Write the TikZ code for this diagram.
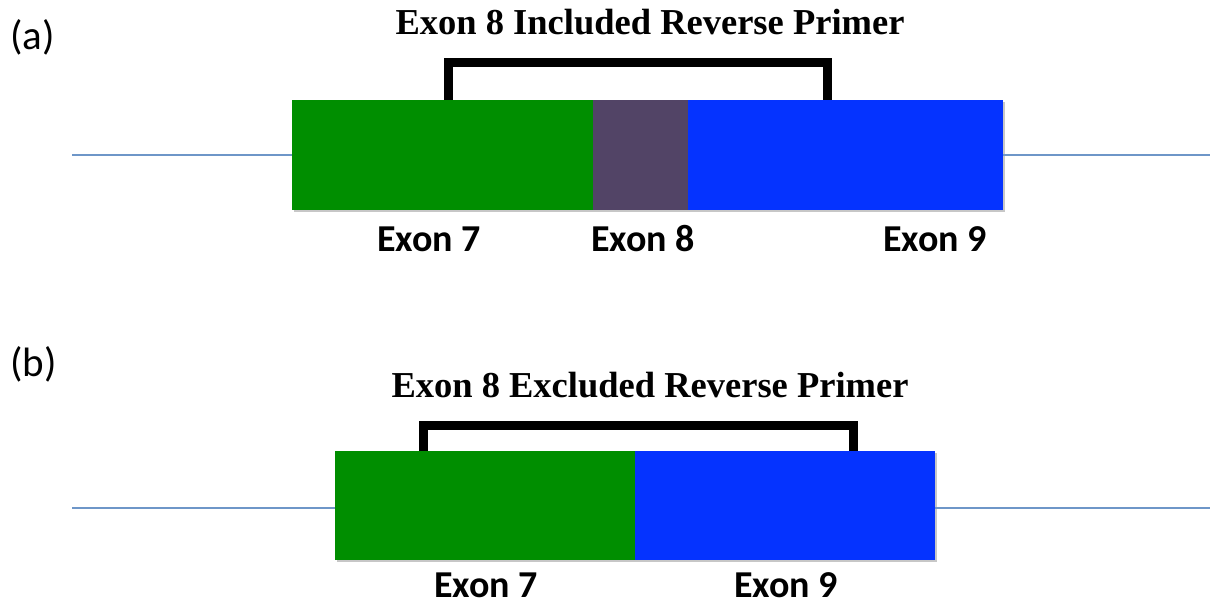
\documentclass[tikz,border=0pt]{standalone}
\usepackage{fontspec}
\setmainfont{Liberation Serif}
\newfontfamily\calib{Carlito}
\definecolor{exgreen}{RGB}{0,142,0}
\definecolor{expurple}{RGB}{82,68,102}
\definecolor{exblue}{RGB}{5,51,255}
\definecolor{intron}{RGB}{110,150,200}
\begin{document}
\begin{tikzpicture}[x=1pt,y=-1pt,
  exon/.style={draw=none,inner sep=0pt,outer sep=0pt,anchor=north west,minimum height=110pt},
  exlabel/.style={font=\calib\bfseries\fontsize{38}{42}\selectfont,anchor=base,inner sep=0pt,text depth=0pt},
  title/.style={font=\bfseries\fontsize{36.5}{40}\selectfont,anchor=base,inner sep=0pt},
  panel/.style={font=\calib\fontsize{41}{44}\selectfont,anchor=base west,inner sep=0pt},
  primer/.style={line width=9pt,black,line cap=butt,line join=miter},
  intronline/.style={line width=2.5pt,intron},
  shadow/.style={fill=black!22}]
\useasboundingbox (0,0) rectangle (1210,607);
% ---------- (a)
\node[panel] (pa) at (10,50) {(a)};
\node[title] (ta) at (650,35) {Exon 8 Included Reverse Primer};
\fill[shadow] (294,102) rectangle (1005,212);
\node[exon,fill=exgreen,minimum width=301pt] (a7) at (292,100) {};
\node[exon,fill=expurple,minimum width=95pt] (a8) at (593,100) {};
\node[exon,fill=exblue,minimum width=315pt] (a9) at (688,100) {};
\coordinate (aL) at (72,155);
\coordinate (aR) at (1210,155);
\draw[intronline] (aL) -- (aL -| a7.west);
\draw[intronline] (aR -| a9.east) -- (aR);
\coordinate (ab1) at (448,100);
\coordinate (ab2) at (827,100);
\draw[primer] (ab1) -- (448,63) -- (827,63) -- (ab2);
\node[exlabel] (la7) at (429,251) {Exon 7};
\node[exlabel] (la8) at (643,251) {Exon 8};
\node[exlabel] (la9) at (935,251) {Exon 9};
% ---------- (b)
\node[panel] (pb) at (10,376) {(b)};
\node[title] (tb) at (650,397) {Exon 8 Excluded Reverse Primer};
\fill[shadow] (337,453) rectangle (937,562);
\node[exon,fill=exgreen,minimum width=300pt,minimum height=109pt] (b7) at (335,451) {};
\node[exon,fill=exblue,minimum width=300pt,minimum height=109pt] (b9) at (635,451) {};
\coordinate (bL) at (72,508);
\coordinate (bR) at (1210,508);
\draw[intronline] (bL) -- (bL -| b7.west);
\draw[intronline] (bR -| b9.east) -- (bR);
\coordinate (bb1) at (423,451);
\coordinate (bb2) at (853,451);
\draw[primer] (bb1) -- (423,425.5) -- (853,425.5) -- (bb2);
\node[exlabel] (lb7) at (486,597) {Exon 7};
\node[exlabel] (lb9) at (786,597) {Exon 9};
\end{tikzpicture}
\end{document}
